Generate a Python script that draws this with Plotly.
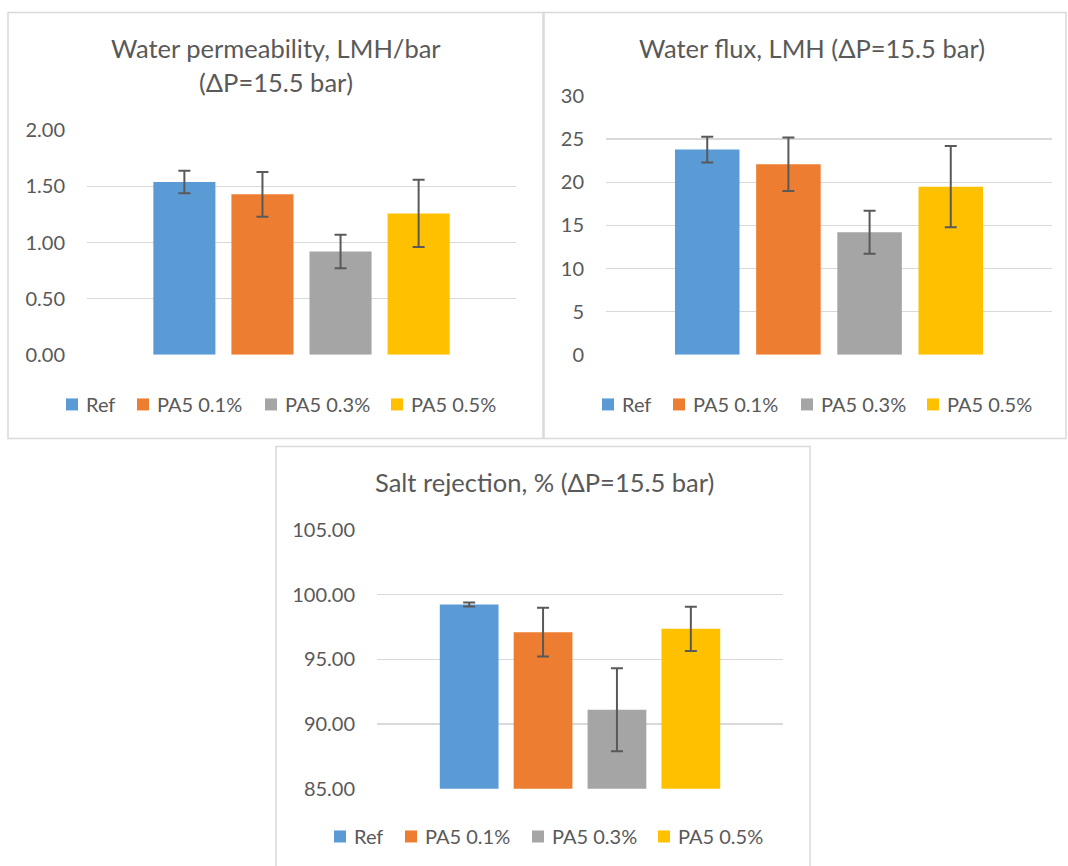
import plotly.graph_objects as go

# ---------------- data ----------------
series = ["Ref", "PA5 0.1%", "PA5 0.3%", "PA5 0.5%"]
colors = ["#5B9BD5", "#ED7D31", "#A5A5A5", "#FFC000"]

permeability = [1.54, 1.43, 0.92, 1.26]
permeability_err = [0.10, 0.20, 0.15, 0.30]

flux = [23.8, 22.1, 14.2, 19.5]
flux_err = [1.5, 3.1, 2.5, 4.7]

rejection = [99.23, 97.09, 91.10, 97.35]
rejection_err = [0.15, 1.88, 3.20, 1.71]

titles = [
    ["Water permeability, LMH/bar", "(ΔP=15.5 bar)"],
    ["Water flux, LMH (ΔP=15.5 bar)"],
    ["Salt rejection, % (ΔP=15.5 bar)"],
]
y_ranges = [[0, 2], [0, 30], [85, 105]]
y_dticks = [0.5, 5, 5]
y_formats = [".2f", "d", ".2f"]
category = ["Membrane"]

# ---------------- layout geometry (pixels, as seen in the target) ----------------
W, H = 1068, 866
FONT = "Lato, Carlito, Calibri, sans-serif"
TXT = "#595959"
GRID = "#D9D9D9"
# the page is photographed with a slight vertical squeeze; compensate for it
Y_SCALE, Y_OFF = 0.9722, 12.6


def px(x):
    return x / W


def py(y):
    return 1 - ((y - Y_OFF) / Y_SCALE) / H


panels = [
    dict(plot_x=(87, 516), plot_y=(130, 354.3), border=(8, 12, 543, 438),
         title=(276, (48, 82)), legend_y=404, legend_x=(66, 137, 265, 391)),
    dict(plot_x=(606, 1052), plot_y=(95.7, 354.3), border=(544, 12, 1066, 438),
         title=(812, (48,)), legend_y=404, legend_x=(602, 673, 801, 927)),
    dict(plot_x=(377, 783), plot_y=(529.3, 788.3), border=(276, 446, 810, 900),
         title=(544, (482,)), legend_y=836, legend_x=(334, 405, 532, 658)),
]

values = [permeability, flux, rejection]
errors = [permeability_err, flux_err, rejection_err]

fig = go.Figure()
shapes = []
annotations = []

for p, (geo, vals, errs) in enumerate(zip(panels, values, errors)):
    idx = "" if p == 0 else str(p + 1)
    xa = "x" + idx
    ya = "y" + idx
    for name, color, v, e in zip(series, colors, vals, errs):
        fig.add_trace(go.Bar(
            x=category, y=[v], name=name,
            marker=dict(color=color, line=dict(width=0)),
            error_y=dict(type="data", array=[e], visible=True,
                         color="#595959", thickness=2, width=6),
            xaxis=xa, yaxis=ya, showlegend=False,
        ))
    fig.update_layout(**{
        "xaxis" + idx: dict(
            domain=[px(geo["plot_x"][0]), px(geo["plot_x"][1])],
            anchor=ya, type="category", showticklabels=False,
            showgrid=False, zeroline=False, showline=False, fixedrange=True,
        ),
        "yaxis" + idx: dict(
            domain=[py(geo["plot_y"][1]), py(geo["plot_y"][0])],
            anchor=xa, range=y_ranges[p], dtick=y_dticks[p], tick0=y_ranges[p][0],
            tickformat=y_formats[p], showgrid=True, gridcolor=GRID, gridwidth=1.5,
            zeroline=False, showline=False, ticks="", ticklabelstandoff=21,
            tickfont=dict(family=FONT, size=20, color=TXT), fixedrange=True,
        ),
    })
    # panel border
    x0, y0, x1, y1 = geo["border"]
    shapes.append(dict(type="rect", xref="paper", yref="paper",
                       x0=px(x0), x1=px(x1), y0=py(y1), y1=py(y0),
                       line=dict(color=GRID, width=1.5), fillcolor="rgba(0,0,0,0)",
                       layer="below"))
    # title (one annotation per line)
    tx, tys = geo["title"]
    for line, ty in zip(titles[p], tys):
        annotations.append(dict(text=line, xref="paper", yref="paper",
                                x=px(tx), y=py(ty),
                                xanchor="center", yanchor="middle", showarrow=False,
                                font=dict(family=FONT, size=25.5, color=TXT)))
    # legend
    ly = geo["legend_y"]
    for name, color, sx in zip(series, colors, geo["legend_x"]):
        shapes.append(dict(type="rect", xref="paper", yref="paper",
                           x0=px(sx), x1=px(sx + 12), y0=py(ly + 6), y1=py(ly - 6),
                           line=dict(width=0), fillcolor=color))
        annotations.append(dict(text=name, xref="paper", yref="paper",
                                x=px(sx + 18), y=py(ly), xanchor="left", yanchor="middle",
                                showarrow=False,
                                font=dict(family=FONT, size=20, color=TXT)))

fig.update_layout(
    width=W, height=H, autosize=False,
    margin=dict(l=0, r=0, t=0, b=0),
    paper_bgcolor="white", plot_bgcolor="white",
    barmode="group", bargap=0.272, bargroupgap=0.205,
    showlegend=False,
    shapes=shapes, annotations=annotations,
    font=dict(family=FONT, color=TXT),
)

fig.write_html(
    "out.html",
    config={"displayModeBar": False, "staticPlot": True},
    post_script="document.body.style.margin='0';document.body.style.overflow='hidden';",
)
